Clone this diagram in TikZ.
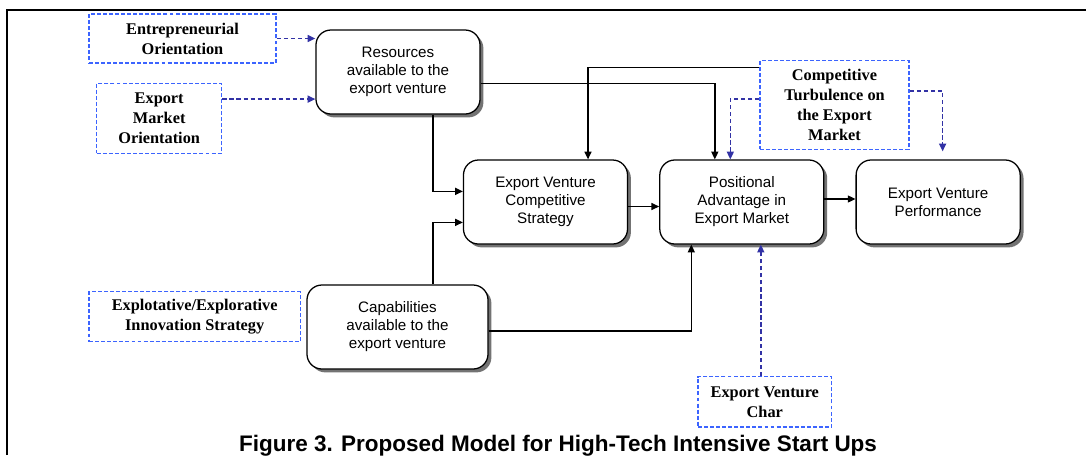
\documentclass[tikz,border=0pt]{standalone}
\usepackage{fontspec}
\setmainfont{Liberation Serif}
\setsansfont{Liberation Sans}
\usepackage{tikz}
\usetikzlibrary{arrows.meta,positioning,shadows}

\definecolor{dashblue}{RGB}{60,100,255}
\definecolor{linkblue}{RGB}{50,50,165}

\tikzset{
	block/.style={draw, line width=0.9pt, rounded corners=0.375cm, fill=white, align=center,
		font=\sffamily\fontsize{10.8}{12.8}\selectfont, minimum width=4.1cm, minimum height=2.1cm,
		drop shadow={shadow xshift=2.4pt, shadow yshift=-2.4pt, fill=black!55, opacity=1}},
	factor/.style={draw=dashblue, line width=1pt, dash pattern=on 2.8pt off 1.5pt, align=center,
		font=\bfseries\fontsize{11.6}{14.2}\selectfont},
	link/.style={->, line width=1pt},
	moderator/.style={->, line width=1pt, draw=linkblue, dash pattern=on 3pt off 2pt}
}

\begin{document}
\begin{tikzpicture}[x=0.025cm,y=-0.025cm,>={Triangle[length=5.5pt,width=5pt]},node distance=0.775cm]
	\useasboundingbox (0,0) rectangle (1086,455);
	\draw[line width=2pt] (7,455) -- (7,10) -- (1086,10);

	\node[block]                                   (resources)            at (398,72)    {Resources\\available to the\\export venture};
	\node[block]                                   (competitive-strategy) at (545.5,202) {Export Venture\\Competitive\\Strategy};
	\node[block, right=of competitive-strategy]    (positional-advantage)                {Positional\\Advantage in\\Export Market};
	\node[block, right=of positional-advantage]    (performance)                         {Export Venture\\Performance};
	\node[block, minimum width=4.525cm]            (capabilities)         at (397.5,327) {Capabilities\\available to the\\export venture};

	\node[factor, minimum width=4.675cm, minimum height=1.225cm] (entrepreneurial-orientation) at (182.5,38.5) {Entrepreneurial\\Orientation};
	\node[factor, minimum width=3.125cm, minimum height=1.75cm]  (market-orientation)          at (159.2,118.3) {Export\\Market\\Orientation};
	\node[factor, minimum width=3.725cm, minimum height=2.215cm] (turbulence)                  at (834.5,105) {Competitive\\Turbulence on\\the Export\\Market};
	\node[factor, minimum width=5.275cm, minimum height=1.25cm]  (innovation-strategy)         at (194.7,316.7) {Explotative/Explorative\\Innovation Strategy};
	\node[factor, minimum width=3.34cm, minimum height=1.26cm]   (venture-char)                at (764.8,401.8) {Export Venture\\Char};

	\node[font=\sffamily\bfseries\fontsize{16}{19}\selectfont, anchor=base] (caption) at (558,451) {Figure 3. Proposed Model for High-Tech Intensive Start Ups};

	% free ends of the dashed links
	\coordinate (market-out) at ([yshift=0.48cm]market-orientation.east);
	\coordinate (char-out)   at ([xshift=-0.1cm]venture-char.north);
	\coordinate (perf-in)    at ([xshift=0.1125cm,yshift=0.2cm]performance.north);

	\draw[moderator] (entrepreneurial-orientation.east) -- (entrepreneurial-orientation.east -| resources.west);
	\draw[moderator] (market-out) -- (market-out -| resources.west);
	\draw[moderator] ([yshift=0.15cm]turbulence.west) -| ([xshift=-0.2875cm]positional-advantage.north);
	\draw[moderator] ([yshift=0.35cm]turbulence.east) -| (perf-in);
	\draw[moderator] (char-out) -- (char-out |- positional-advantage.south);

	\draw[link] ([xshift=0.87cm]resources.south) |- ([yshift=0.265cm]competitive-strategy.west);
	\draw[link] ([xshift=0.8875cm]capabilities.north) |- ([yshift=-0.51cm]competitive-strategy.west);
	\draw[link] ([yshift=-0.29cm]resources.east) -| ([xshift=-0.675cm]positional-advantage.north);
	\draw[link] ([yshift=-0.19cm]turbulence.north west) -| ([xshift=1.0625cm]competitive-strategy.north);
	\draw[link] ([yshift=-0.1125cm]competitive-strategy.east) -- ([yshift=-0.1125cm]positional-advantage.west);
	\draw[link] ([yshift=0.075cm]positional-advantage.east) -- ([yshift=0.075cm]performance.west);
	\draw[link] ([yshift=-0.1cm]capabilities.east) -| ([xshift=-1.2625cm]positional-advantage.south);
\end{tikzpicture}
\end{document}
